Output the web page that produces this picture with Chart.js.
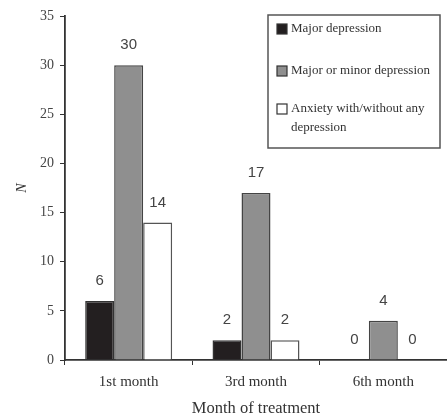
<!DOCTYPE html>
<html>
<head>
<meta charset="utf-8">
<script src="https://cdn.jsdelivr.net/npm/chart.js@4"></script>
<style>
  html, body { margin: 0; padding: 0; background: #fff; }
  #wrap { width: 447px; height: 419px; }
</style>
</head>
<body>
<div id="wrap"><canvas id="chart" width="447" height="419"></canvas></div>
<script>
const months = ["1st month", "3rd month", "6th month"];
const seriesNames = ["Major depression", "Major or minor depression", "Anxiety with/without any depression"];
const majorDep = [6, 2, 0];
const majorMinorDep = [30, 17, 4];
const anxiety = [14, 2, 0];
const yTicks = [0, 5, 10, 15, 20, 25, 30, 35];

const ctx = document.getElementById("chart");

// values printed above each bar
const valueLabels = {
  id: "valueLabels",
  afterDatasetsDraw(chart) {
    const c = chart.ctx;
    c.save();
    c.font = "15px 'Liberation Sans', Arial, sans-serif";
    c.fillStyle = "#444";
    c.textAlign = "center";
    c.textBaseline = "middle";
    chart.data.datasets.forEach((ds, i) => {
      chart.getDatasetMeta(i).data.forEach((bar, j) => {
        c.fillText(String(ds.data[j]), bar.x, bar.y - 20);
      });
    });
    c.restore();
  },
};

// boxed legend inside the plot, top right
const boxLegend = {
  id: "boxLegend",
  afterDraw(chart) {
    const c = chart.ctx;
    const x0 = 268, y0 = 15, w = 172, h = 133;
    c.save();
    c.strokeStyle = "#555";
    c.lineWidth = 1.5;
    c.strokeRect(x0, y0, w, h);
    c.font = "13px 'Liberation Serif', 'Times New Roman', serif";
    c.textBaseline = "middle";
    const rows = [29, 71, 109];
    chart.data.datasets.forEach((ds, i) => {
      const y = rows[i];
      c.fillStyle = ds.backgroundColor;
      c.fillRect(277, y - 5, 10, 10);
      c.strokeStyle = "#333";
      c.lineWidth = 1.2;
      c.strokeRect(277, y - 5, 10, 10);
      // wrap long names
      const words = ds.label.split(" ");
      const lines = [];
      let line = "";
      words.forEach((wd) => {
        const t = line ? line + " " + wd : wd;
        if (c.measureText(t).width > 145 && line) {
          lines.push(line);
          line = wd;
        } else line = t;
      });
      lines.push(line);
      c.fillStyle = "#333";
      lines.forEach((ln, k) => c.fillText(ln, 291, y + k * 19));
    });
    c.restore();
  },
};

const barChart = new Chart(ctx, {
  type: "bar",
  data: {
    labels: months,
    datasets: [
      {
        label: seriesNames[0],
        data: majorDep,
        backgroundColor: "#231f20",
        borderColor: "#333",
        borderWidth: 1.5,
      },
      {
        label: seriesNames[1],
        data: majorMinorDep,
        backgroundColor: "#8f8f8f",
        borderColor: "#444",
        borderWidth: 1.5,
      },
      {
        label: seriesNames[2],
        data: anxiety,
        backgroundColor: "#ffffff",
        borderColor: "#555",
        borderWidth: 1.5,
      },
    ],
  },
  options: {
    responsive: false,
    animation: false,
    categoryPercentage: 0.683,
    barPercentage: 1.0,
    layout: { padding: { left: 0, right: 0, top: 16, bottom: 0 } },
    plugins: {
      legend: { display: false },
      tooltip: { enabled: false },
    },
    scales: {
      x: {
        grid: {
          offset: true,
          drawOnChartArea: false,
          drawTicks: true,
          tickLength: 5,
          color: "#333",
        },
        border: { color: "#333", width: 1.8 },
        ticks: {
          color: "#333",
          padding: 8,
          font: { family: "'Liberation Serif', 'Times New Roman', serif", size: 15 },
        },
        title: {
          display: true,
          text: "Month of treatment",
          color: "#333",
          padding: { top: 4, bottom: 0 },
          font: { family: "'Liberation Serif', 'Times New Roman', serif", size: 16.5 },
        },
        afterFit(axis) {
          axis.height = 59;
        },
      },
      y: {
        min: 0,
        max: 35,
        afterBuildTicks(axis) {
          axis.ticks = yTicks.map((v) => ({ value: v }));
        },
        grid: {
          drawOnChartArea: false,
          drawTicks: true,
          tickLength: 5,
          color: "#333",
        },
        border: { color: "#333", width: 1.8 },
        ticks: {
          color: "#444",
          padding: 6,
          font: { family: "'Liberation Serif', 'Times New Roman', serif", size: 14 },
        },
        title: {
          display: true,
          text: "N",
          color: "#333",
          padding: { top: 14, bottom: 0 },
          font: { family: "'Liberation Serif', 'Times New Roman', serif", size: 14, style: "italic" },
        },
        afterFit(axis) {
          axis.width = 65;
        },
      },
    },
  },
  plugins: [valueLabels, boxLegend],
});
</script>
</body>
</html>
